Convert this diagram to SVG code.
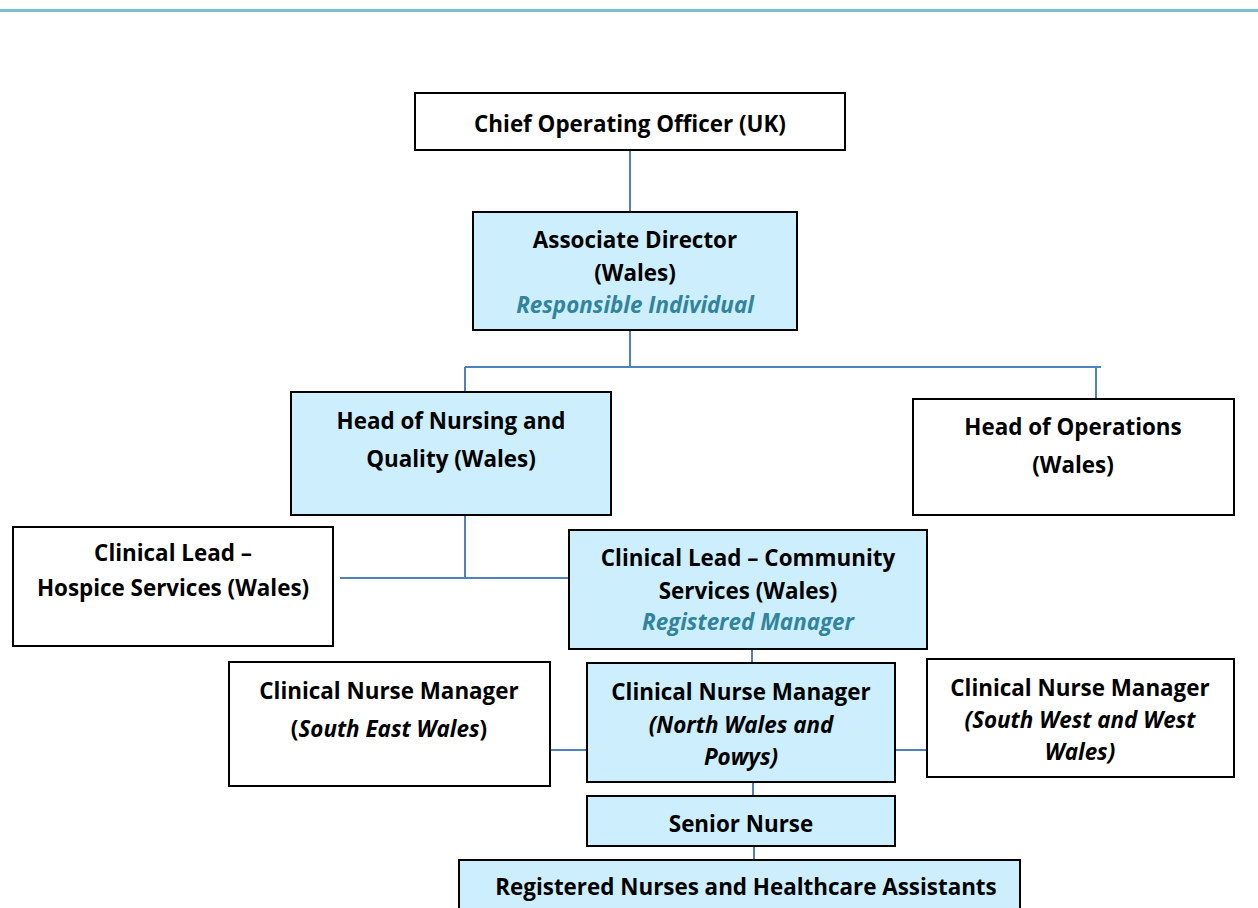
<svg xmlns="http://www.w3.org/2000/svg" width="1258" height="908" viewBox="0 0 1258 908">
<style>
.box{stroke:#000;stroke-width:2;fill:#fff}
.blue{fill:#cdeefd}
text{font-family:"Open Sans",Lato,"Liberation Sans",sans-serif;font-weight:bold;font-size:22.4px;fill:#000;text-anchor:middle}
.it{font-style:italic}
.teal{fill:#31849b}
.conn{stroke:#4f81bd;stroke-width:2;fill:none}
</style>
<rect x="0" y="9" width="1258" height="3" fill="#7bc0cf"/>
<g id="connectors">
<path class="conn" d="M630 150V212M630 330V367M465 367H1101M465 367V392M1096 367V399M465 515V578M340 578H569M752 649V663M550 750H587M895 750H927M753 782V796M754 846V860"/>
</g>
<g id="coo"><rect class="box" x="415" y="93" width="430" height="57"/><text x="630" y="132">Chief Operating Officer (UK)</text></g>
<g id="ad"><rect class="box blue" x="473" y="212" width="324" height="118"/><text x="635" y="248">Associate Director</text><text x="635" y="281">(Wales)</text><text x="635" y="313" class="it teal">Responsible Individual</text></g>
<g id="hon"><rect class="box blue" x="291" y="392" width="320" height="123"/><text x="451" y="429">Head of Nursing and</text><text x="451" y="467">Quality (Wales)</text></g>
<g id="hop"><rect class="box" x="913" y="399" width="321" height="116"/><text x="1073" y="435">Head of Operations</text><text x="1073" y="473">(Wales)</text></g>
<g id="clh"><rect class="box" x="13" y="527" width="320" height="119"/><text x="173" y="561">Clinical Lead –</text><text x="173" y="596">Hospice Services (Wales)</text></g>
<g id="clc"><rect class="box blue" x="569" y="530" width="358" height="119"/><text x="748" y="566">Clinical Lead – Community</text><text x="748" y="599">Services (Wales)</text><text x="748" y="630" class="it teal">Registered Manager</text></g>
<g id="cnmse"><rect class="box" x="229" y="662" width="321" height="124"/><text x="389" y="699">Clinical Nurse Manager</text><text x="389" y="737">(<tspan class="it">South East Wales</tspan>)</text></g>
<g id="cnmn"><rect class="box blue" x="587" y="663" width="308" height="119"/><text x="741" y="700">Clinical Nurse Manager</text><text x="741" y="733" class="it">(North Wales and</text><text x="741" y="765" class="it">Powys)</text></g>
<g id="cnmsw"><rect class="box" x="927" y="659" width="307" height="118"/><text x="1080" y="696">Clinical Nurse Manager</text><text x="1080" y="728" class="it">(South West and West</text><text x="1080" y="760" class="it">Wales)</text></g>
<g id="sn"><rect class="box blue" x="587" y="796" width="308" height="50"/><text x="741" y="832">Senior Nurse</text></g>
<g id="rn"><rect class="box blue" x="459" y="860" width="561" height="60"/><text x="746" y="895">Registered Nurses and Healthcare Assistants</text></g>
</svg>
